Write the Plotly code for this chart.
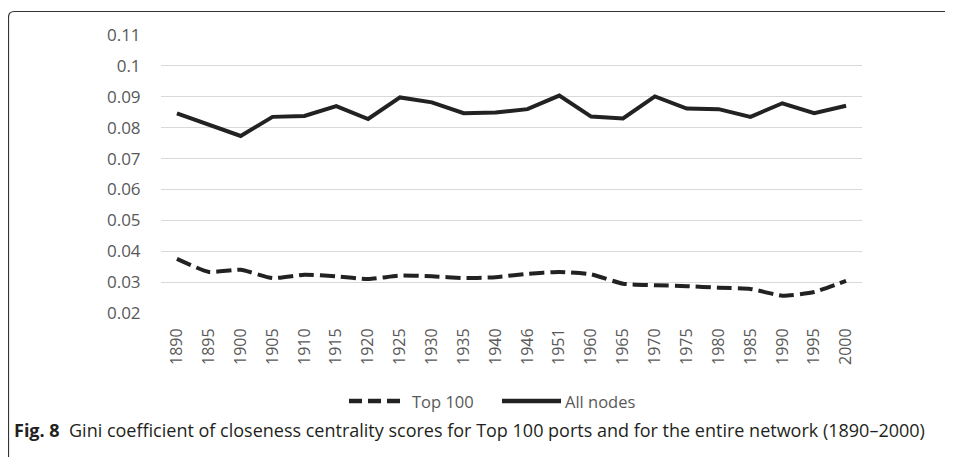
import plotly.graph_objects as go

years = ["1890", "1895", "1900", "1905", "1910", "1915", "1920", "1925", "1930", "1935",
         "1940", "1946", "1951", "1960", "1965", "1970", "1975", "1980", "1985", "1990",
         "1995", "2000"]
top100 = [0.0375, 0.0333, 0.0340, 0.0313, 0.0324, 0.0319, 0.0310, 0.0321, 0.0319, 0.0313,
          0.0316, 0.0327, 0.0333, 0.0325, 0.0295, 0.0290, 0.0287, 0.0282, 0.0278, 0.0256,
          0.0268, 0.0304]
all_nodes = [0.0846, 0.0810, 0.0773, 0.0835, 0.0838, 0.0870, 0.0828, 0.0898, 0.0882, 0.0847,
             0.0849, 0.0860, 0.0904, 0.0836, 0.0830, 0.0901, 0.0862, 0.0860, 0.0835, 0.0879,
             0.0847, 0.0871]
y_ticks = [0.02, 0.03, 0.04, 0.05, 0.06, 0.07, 0.08, 0.09, 0.10, 0.11]
y_labels = ["0.02", "0.03", "0.04", "0.05", "0.06", "0.07", "0.08", "0.09", "0.1", "0.11"]
series_names = ["Top 100", "All nodes"]

OFF = 8  # default page body margin
W, H = 953 - OFF, 457 - OFF
# plot area in page pixels
PL, PR, PT, PB = 161, 862, 35, 313
L, R, T, B = PL - OFF, PR - OFF, PT - OFF, PB - OFF

LINE_COLOR = "#222222"
DASH = "15px,6px"

fig = go.Figure()
fig.add_trace(go.Scatter(x=years, y=top100, mode="lines", name=series_names[0],
                         line=dict(color=LINE_COLOR, width=4, dash=DASH,
                                   shape="spline", smoothing=0.5)))
fig.add_trace(go.Scatter(x=years, y=all_nodes, mode="lines", name=series_names[1],
                         line=dict(color=LINE_COLOR, width=4)))


def px_x(p):  # page px -> paper
    return (p - PL) / (PR - PL)


def px_y(p):
    return (PB - p) / (PB - PT)


font = "Open Sans"
fig.update_layout(
    width=W, height=H,
    margin=dict(l=L, r=W - R, t=T, b=H - B, pad=0),
    paper_bgcolor="white", plot_bgcolor="white",
    font=dict(family=font, color="#595959", size=16),
    showlegend=False,
    xaxis=dict(type="category", range=[-0.5, len(years) - 0.5], tickangle=-90,
               showgrid=False, zeroline=False,
               showline=False, ticks="outside", ticklen=8, tickcolor="rgba(0,0,0,0)",
               tickfont=dict(size=16, color="#595959")),
    yaxis=dict(range=[0.02, 0.11], tickvals=y_ticks, ticktext=y_labels,
               showgrid=True, gridcolor="#d9d9d9", gridwidth=1.3, zeroline=False,
               showline=False, ticks="outside", ticklen=16, tickcolor="rgba(0,0,0,0)",
               tickfont=dict(size=17, color="#595959")),
)

# legend drawn below the axis (page coords)
LEG_Y = 401
fig.add_shape(type="line", xref="paper", yref="paper",
              x0=px_x(349), x1=px_x(400), y0=px_y(LEG_Y), y1=px_y(LEG_Y),
              line=dict(color=LINE_COLOR, width=4.5, dash="13px,6px"))
fig.add_shape(type="line", xref="paper", yref="paper",
              x0=px_x(502), x1=px_x(561), y0=px_y(LEG_Y), y1=px_y(LEG_Y),
              line=dict(color=LINE_COLOR, width=4.5))
fig.add_annotation(xref="paper", yref="paper", x=px_x(410), y=px_y(LEG_Y),
                   xanchor="left", yanchor="middle", showarrow=False,
                   text=series_names[0], font=dict(family=font, size=16.5, color="#595959"))
fig.add_annotation(xref="paper", yref="paper", x=px_x(563), y=px_y(LEG_Y),
                   xanchor="left", yanchor="middle", showarrow=False,
                   text=series_names[1], font=dict(family=font, size=16.5, color="#595959"))

# frame (top and left edges with a rounded corner), page coords
x0, yt, rr = 8.5, 11.5, 6
path = (f"M {px_x(x0)},{px_y(H + 20)} L {px_x(x0)},{px_y(yt + rr)} "
        f"Q {px_x(x0)},{px_y(yt)} {px_x(x0 + rr)},{px_y(yt)} L {px_x(W + 20)},{px_y(yt)}")
fig.add_shape(type="path", path=path, xref="paper", yref="paper",
              line=dict(color="#333333", width=1.2))

fig.add_annotation(xref="paper", yref="paper", x=px_x(12), y=px_y(430),
                   xanchor="left", yanchor="middle", showarrow=False,
                   text="<b>Fig. 8</b>  Gini coefficient of closeness centrality scores for Top 100 ports and for the entire network (1890–2000)",
                   font=dict(family=font, size=18, color="#231f20"))

fig.write_html("out.html")
